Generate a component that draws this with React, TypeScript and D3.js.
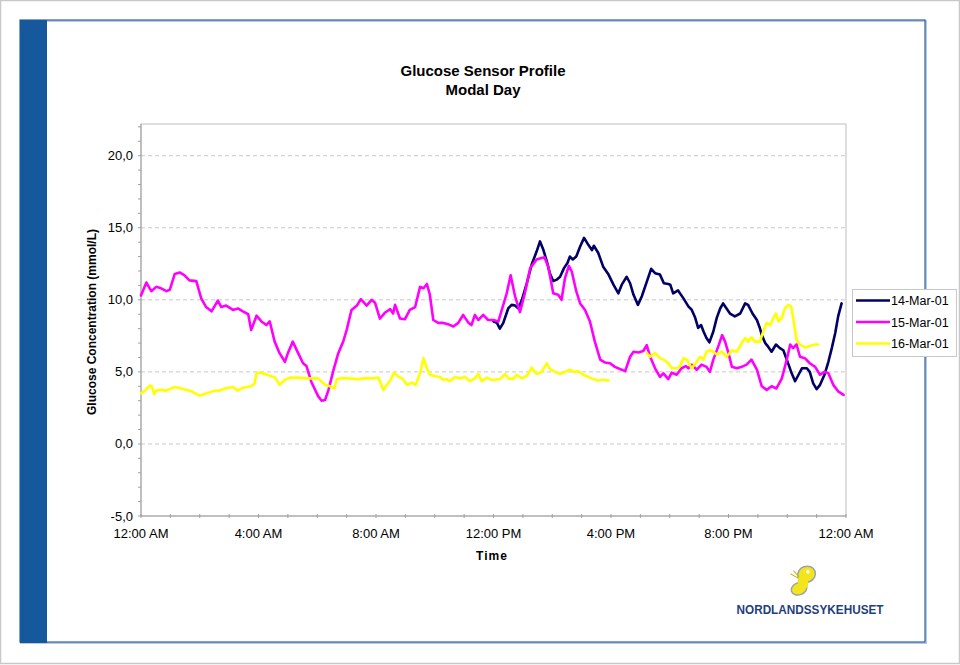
import React, { useEffect, useRef } from "react";
import * as d3 from "d3";

// ---- Data (time in minutes after midnight, glucose in mmol/L) ----
const mar14Minutes = [720, 727, 733, 740, 750, 757, 764, 771, 778, 788, 798, 808, 815, 822, 829, 835, 842, 849, 856, 864, 871, 876, 882, 889, 897, 905, 914, 921, 925, 934, 944, 955, 965, 975, 982, 992, 999, 1006, 1015, 1023, 1033, 1042, 1050, 1060, 1068, 1077, 1081, 1087, 1097, 1108, 1118, 1125, 1132, 1138, 1144, 1149, 1155, 1161, 1169, 1176, 1183, 1189, 1196, 1203, 1213, 1224, 1234, 1240, 1249, 1258, 1264, 1268, 1275, 1281, 1288, 1297, 1305, 1312, 1319, 1328, 1336, 1343, 1350, 1360, 1366, 1373, 1380, 1387, 1396, 1404, 1411, 1418, 1424, 1431];
const mar14Values = [8.5, 8.4, 8.0, 8.4, 9.4, 9.65, 9.6, 9.4, 10.0, 11.15, 12.45, 13.35, 14.05, 13.45, 12.65, 11.85, 11.3, 11.4, 11.6, 12.2, 12.55, 13.0, 12.8, 13.0, 13.7, 14.3, 13.8, 13.45, 13.75, 13.25, 12.3, 11.75, 11.05, 10.45, 11.05, 11.6, 11.15, 10.35, 9.65, 10.25, 11.25, 12.15, 11.85, 11.75, 11.15, 11.1, 11.05, 10.45, 10.65, 10.1, 9.55, 9.3, 8.75, 8.05, 8.25, 7.8, 7.35, 7.05, 7.8, 8.75, 9.4, 9.75, 9.4, 9.05, 8.85, 9.05, 9.75, 9.65, 9.05, 8.6, 8.05, 7.55, 7.0, 6.75, 6.4, 6.9, 6.65, 6.5, 5.85, 5.0, 4.35, 4.8, 5.25, 5.25, 5.0, 4.2, 3.8, 4.1, 4.8, 5.7, 6.65, 7.7, 8.85, 9.75];

const mar15Minutes = [0, 11, 21, 31, 41, 52, 59, 69, 79, 89, 99, 113, 123, 133, 144, 157, 164, 174, 188, 198, 208, 219, 225, 236, 246, 256, 263, 273, 283, 294, 300, 310, 321, 331, 338, 348, 362, 369, 376, 383, 393, 403, 413, 420, 430, 441, 449, 461, 471, 478, 488, 498, 509, 515, 519, 529, 539, 549, 560, 570, 577, 584, 590, 597, 607, 617, 628, 638, 648, 658, 669, 675, 682, 689, 699, 709, 720, 730, 740, 747, 755, 764, 774, 784, 795, 808, 818, 824, 832, 842, 852, 859, 866, 874, 880, 889, 897, 907, 917, 927, 938, 948, 958, 968, 978, 989, 999, 1006, 1016, 1026, 1033, 1040, 1050, 1060, 1067, 1077, 1084, 1094, 1104, 1113, 1118, 1125, 1135, 1145, 1155, 1162, 1169, 1179, 1187, 1193, 1200, 1207, 1217, 1227, 1237, 1247, 1258, 1268, 1278, 1288, 1298, 1309, 1319, 1326, 1332, 1339, 1346, 1356, 1366, 1377, 1387, 1396, 1404, 1414, 1424, 1435];
const mar15Values = [10.3, 11.2, 10.6, 10.9, 10.8, 10.6, 10.7, 11.8, 11.9, 11.7, 11.35, 11.3, 10.1, 9.5, 9.2, 9.95, 9.5, 9.6, 9.3, 9.4, 9.2, 9.0, 7.9, 8.9, 8.5, 8.25, 8.5, 7.1, 6.3, 5.7, 6.3, 7.1, 6.3, 5.6, 5.4, 4.3, 3.3, 3.0, 3.05, 3.75, 5.1, 6.3, 7.1, 7.9, 9.3, 9.6, 10.05, 9.6, 10.0, 9.8, 8.7, 9.1, 9.35, 9.05, 9.65, 8.7, 8.65, 9.3, 9.5, 10.9, 10.8, 11.1, 10.35, 8.6, 8.4, 8.4, 8.3, 8.15, 8.4, 8.95, 8.4, 8.25, 8.95, 8.6, 8.95, 8.6, 8.6, 8.5, 9.65, 10.45, 11.7, 10.25, 9.15, 10.45, 12.2, 12.8, 12.9, 12.95, 12.3, 10.45, 10.35, 10.0, 11.5, 12.35, 11.95, 10.6, 9.75, 9.3, 8.5, 7.1, 5.85, 5.65, 5.6, 5.35, 5.2, 5.05, 6.05, 6.4, 6.35, 6.45, 6.85, 6.05, 5.25, 4.65, 4.9, 4.5, 4.95, 4.8, 5.25, 5.4, 5.25, 5.5, 5.15, 5.5, 5.35, 5.0, 5.85, 6.75, 7.55, 7.1, 6.3, 5.35, 5.25, 5.35, 5.5, 5.85, 5.15, 4.0, 3.75, 4.0, 3.85, 4.55, 5.85, 6.9, 6.65, 6.9, 6.05, 5.95, 5.6, 5.35, 4.8, 5.0, 4.9, 4.1, 3.65, 3.4];

// null value = sensor gap
const mar16Minutes = [0, 8, 18, 22, 27, 31, 41, 52, 69, 82, 103, 120, 133, 151, 161, 171, 188, 198, 208, 225, 232, 236, 242, 253, 266, 274, 283, 294, 304, 321, 341, 362, 376, 386, 395, 400, 410, 423, 441, 458, 474, 485, 495, 502, 509, 517, 526, 534, 543, 553, 561, 570, 577, 584, 590, 601, 611, 617, 624, 631, 641, 652, 662, 672, 682, 689, 696, 706, 716, 723, 733, 744, 750, 760, 767, 778, 784, 789, 798, 808, 818, 829, 835, 846, 856, 866, 876, 884, 893, 903, 914, 924, 934, 944, 955, 990, 1033, 1040, 1050, 1060, 1068, 1077, 1084, 1094, 1101, 1108, 1115, 1125, 1135, 1142, 1149, 1155, 1162, 1169, 1176, 1186, 1196, 1207, 1217, 1227, 1234, 1240, 1247, 1254, 1264, 1271, 1278, 1285, 1292, 1297, 1302, 1309, 1315, 1322, 1328, 1332, 1339, 1346, 1356, 1366, 1377, 1383];
const mar16Values: (number | null)[] = [3.5, 3.7, 4.05, 4.0, 3.45, 3.7, 3.75, 3.7, 3.95, 3.85, 3.65, 3.35, 3.5, 3.7, 3.7, 3.85, 3.95, 3.7, 3.9, 4.0, 4.2, 4.9, 4.95, 4.85, 4.7, 4.6, 4.1, 4.45, 4.6, 4.6, 4.55, 4.55, 4.1, 4.0, 3.85, 4.5, 4.55, 4.55, 4.5, 4.55, 4.55, 4.6, 3.75, 4.1, 4.4, 4.95, 4.65, 4.55, 4.1, 4.25, 4.1, 4.9, 5.95, 5.25, 4.8, 4.7, 4.65, 4.45, 4.5, 4.35, 4.65, 4.55, 4.65, 4.35, 4.55, 4.85, 4.35, 4.6, 4.45, 4.45, 4.5, 4.85, 4.55, 4.5, 4.8, 4.55, 4.65, 4.75, 5.3, 4.85, 5.0, 5.6, 5.2, 5.0, 4.85, 5.0, 5.15, 5.0, 5.05, 4.8, 4.65, 4.5, 4.4, 4.45, 4.4, null, 6.3, 6.05, 6.3, 5.95, 5.85, 5.6, 5.25, 5.25, 5.4, 5.95, 5.85, 5.25, 5.7, 6.05, 5.85, 6.4, 6.5, 6.4, 6.2, 6.4, 6.05, 6.5, 6.4, 7.0, 7.35, 7.1, 7.4, 7.1, 7.1, 7.8, 8.4, 8.25, 8.75, 9.05, 8.5, 8.75, 9.4, 9.65, 9.55, 8.75, 7.2, 6.9, 6.7, 6.8, 6.9, 6.9];

const seriesNames = ["14-Mar-01", "15-Mar-01", "16-Mar-01"];
const seriesColors = ["#000066", "#FF00FF", "#FFFF00"];
const xTickMinutes = [0, 240, 480, 720, 960, 1200, 1440];
const xTickLabels = ["12:00 AM", "4:00 AM", "8:00 AM", "12:00 PM", "4:00 PM", "8:00 PM", "12:00 AM"];
const yTicks = [-5, 0, 5, 10, 15, 20];

const W = 960;
const H = 665;
const FONT = "'Liberation Sans', Arial, Helvetica, sans-serif";

export default function App() {
  const ref = useRef<SVGSVGElement | null>(null);

  useEffect(() => {
    const svg = d3.select(ref.current);
    svg.selectAll("*").remove();

    // outer page frame
    svg.append("rect").attr("x", 0.5).attr("y", 0.5).attr("width", W - 1).attr("height", H - 2)
      .attr("fill", "#ffffff").attr("stroke", "#c8c8c8").attr("stroke-width", 1.5);
    // slide frame
    svg.append("rect").attr("x", 21).attr("y", 21).attr("width", 905).attr("height", 622)
      .attr("fill", "#ffffff").attr("stroke", "#b9c9dd").attr("stroke-width", 2);
    svg.append("rect").attr("x", 20).attr("y", 20).attr("width", 905).attr("height", 622)
      .attr("fill", "none").attr("stroke", "#2f63a6").attr("stroke-width", 1.2);
    svg.append("rect").attr("x", 20).attr("y", 20).attr("width", 27).attr("height", 623)
      .attr("fill", "#15589c");

    const left = 141, right = 846, top = 124, bottom = 516;
    const x = d3.scaleLinear().domain([0, 1440]).range([left, right]);
    const y = d3.scaleLinear().domain([-5, 22.2]).range([bottom, top]);

    // Titles
    const title = svg.append("text").attr("x", 483).attr("text-anchor", "middle")
      .attr("font-family", FONT).attr("font-weight", "bold").attr("font-size", 15).attr("fill", "#000");
    title.append("tspan").attr("x", 483).attr("y", 76).text("Glucose Sensor Profile");
    title.append("tspan").attr("x", 483).attr("y", 95).text("Modal Day");

    // plot area border
    svg.append("rect").attr("x", left).attr("y", top).attr("width", right - left).attr("height", bottom - top)
      .attr("fill", "#ffffff").attr("stroke", "#c0c0c0").attr("stroke-width", 1);

    // gridlines
    svg.append("g").selectAll("line").data(yTicks.filter(v => v > -5)).join("line")
      .attr("x1", left).attr("x2", right).attr("y1", d => y(d)).attr("y2", d => y(d))
      .attr("stroke", "#c8c8c8").attr("stroke-dasharray", "4,3").attr("stroke-width", 1);

    // y axis
    svg.append("line").attr("x1", left).attr("x2", left).attr("y1", top).attr("y2", bottom)
      .attr("stroke", "#a0a0a0");
    const yMinor = d3.range(-5, 23, 1);
    svg.append("g").selectAll("line").data(yMinor).join("line")
      .attr("x1", left - 3).attr("x2", left).attr("y1", d => y(d)).attr("y2", d => y(d))
      .attr("stroke", "#a0a0a0");
    svg.append("g").selectAll("text").data(yTicks).join("text")
      .attr("x", 133).attr("y", d => y(d) + 4.5).attr("text-anchor", "end")
      .attr("font-family", FONT).attr("font-size", 13).attr("fill", "#000")
      .text(d => d3.format(".1f")(d).replace(".", ",").replace("\u2212", "-"));

    // x axis
    svg.append("line").attr("x1", left).attr("x2", right).attr("y1", bottom).attr("y2", bottom)
      .attr("stroke", "#a0a0a0");
    const xMinor = d3.range(0, 1441, 60);
    svg.append("g").selectAll("line").data(xMinor).join("line")
      .attr("x1", d => x(d)).attr("x2", d => x(d)).attr("y1", bottom - 2).attr("y2", bottom + 2)
      .attr("stroke", "#a0a0a0");
    svg.append("g").selectAll("text").data(xTickMinutes).join("text")
      .attr("x", d => x(d)).attr("y", 538).attr("text-anchor", "middle")
      .attr("font-family", FONT).attr("font-size", 13).attr("fill", "#000")
      .text((d, i) => xTickLabels[i]);

    // axis titles
    svg.append("text").attr("transform", "translate(96,322) rotate(-90)").attr("text-anchor", "middle")
      .attr("font-family", FONT).attr("font-weight", "bold").attr("font-size", 12).attr("fill", "#000")
      .text("Glucose Concentration (mmol/L)");
    svg.append("text").attr("x", 492).attr("y", 560).attr("text-anchor", "middle")
      .attr("font-family", FONT).attr("font-weight", "bold").attr("font-size", 12).attr("letter-spacing", 1)
      .attr("fill", "#000").text("Time");

    // series
    const series = [
      mar14Minutes.map((t, i) => ({ t, v: mar14Values[i] as number | null })),
      mar15Minutes.map((t, i) => ({ t, v: mar15Values[i] as number | null })),
      mar16Minutes.map((t, i) => ({ t, v: mar16Values[i] })),
    ];
    const line = d3.line<{ t: number; v: number | null }>()
      .defined(d => d.v !== null)
      .x(d => x(d.t)).y(d => y(d.v as number));
    const plot = svg.append("g");
    series.forEach((s, i) => {
      plot.append("path").attr("d", line(s) || "").attr("fill", "none")
        .attr("stroke", seriesColors[i]).attr("stroke-width", 2.6)
        .attr("stroke-linejoin", "round").attr("stroke-linecap", "round");
    });

    // legend
    const lg = svg.append("g");
    lg.append("rect").attr("x", 852.5).attr("y", 289.5).attr("width", 104).attr("height", 67)
      .attr("fill", "#ffffff").attr("stroke", "#c8c8c8");
    seriesNames.forEach((n, i) => {
      const ly = 300.5 + i * 21.5;
      lg.append("line").attr("x1", 856).attr("x2", 890).attr("y1", ly).attr("y2", ly)
        .attr("stroke", seriesColors[i]).attr("stroke-width", 2.6);
      lg.append("text").attr("x", 891).attr("y", ly + 4.5).attr("font-family", FONT)
        .attr("font-size", 12.5).attr("fill", "#000").text(n);
    });

    // logo
    const logo = svg.append("g");
    const bf = logo.append("g").attr("transform", "translate(803,582) rotate(-20)");
    bf.append("ellipse").attr("cx", 6).attr("cy", -6).attr("rx", 9).attr("ry", 8)
      .attr("fill", "#f2e51c").attr("stroke", "#9aa3ad").attr("stroke-width", 1.5);
    bf.append("ellipse").attr("cx", -6).attr("cy", 5).attr("rx", 8).attr("ry", 6)
      .attr("fill", "#f2e51c").attr("stroke", "#9aa3ad").attr("stroke-width", 1.5);
    bf.append("ellipse").attr("cx", 0).attr("cy", 0).attr("rx", 5).attr("ry", 7)
      .attr("fill", "#f2e51c");
    bf.append("path").attr("d", "M-3,-5 L-9,-12 M-2,-6 L-5,-14").attr("stroke", "#c8b61a").attr("stroke-width", 1).attr("fill", "none");
    bf.append("circle").attr("cx", 8).attr("cy", -8).attr("r", 1.8).attr("fill", "#ffffff");
    logo.append("text").attr("x", 810).attr("y", 614).attr("text-anchor", "middle")
      .attr("font-family", FONT).attr("font-weight", "bold").attr("font-size", 12)
      .attr("textLength", 147).attr("lengthAdjust", "spacingAndGlyphs")
      .attr("fill", "#1f3f7c").text("NORDLANDSSYKEHUSET");
  }, []);

  return (
    <svg ref={ref} width={W} height={H}
      style={{ position: "absolute", left: 0, top: 0, display: "block", background: "#fff" }} />
  );
}
